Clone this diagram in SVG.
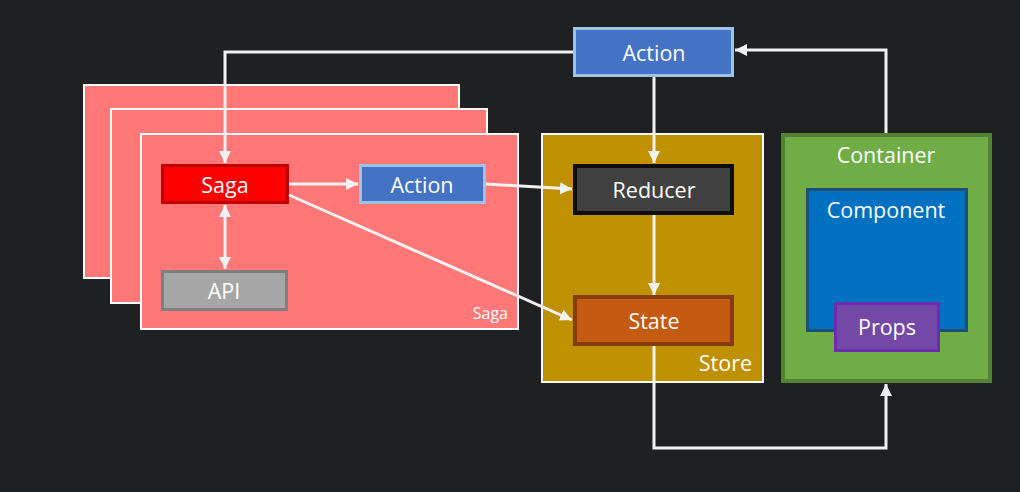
<svg xmlns="http://www.w3.org/2000/svg" width="1020" height="492" viewBox="0 0 1020 492">
<style>
.t{font-family:"Open Sans","Noto Sans",sans-serif;fill:#ffffff;text-anchor:middle;dominant-baseline:central;font-size:21.5px}
.c{fill:none;stroke:#f2f2f2;stroke-width:3}
.stack{fill:#ff7777;stroke:#ffffff;stroke-width:2}
</style>
<defs>
<marker id="ah" viewBox="0 0 10 10" refX="10" refY="5" markerWidth="12" markerHeight="12" markerUnits="userSpaceOnUse" orient="auto-start-reverse">
<path d="M0,0 L10,5 L0,10 z" fill="#f2f2f2"/>
</marker>
</defs>
<rect width="1020" height="492" fill="#1f2022"/>
<g id="saga-stack">
<rect class="stack" x="84" y="85" width="375" height="193"/>
<rect class="stack" x="111" y="109" width="376" height="194"/>
<rect class="stack" x="141" y="134" width="377" height="195"/>
<text class="t" x="508" y="313" style="text-anchor:end;font-size:16px">Saga</text>
</g>
<g id="store">
<rect x="542" y="134" width="221" height="248" fill="#bf9000" stroke="#ffffff" stroke-width="2"/>
<text class="t" x="752" y="362" style="text-anchor:end">Store</text>
</g>
<g id="container">
<rect x="783" y="135" width="207" height="246" fill="#70ad47" stroke="#548235" stroke-width="4"/>
<text class="t" x="886" y="154">Container</text>
</g>
<g id="component">
<rect x="807.5" y="189.5" width="159" height="141" fill="#0070c0" stroke="#1f4e79" stroke-width="3"/>
<text class="t" x="886" y="209">Component</text>
</g>
<g id="props">
<rect x="835.5" y="303.5" width="103" height="47" fill="#7448a6" stroke="#6a2db0" stroke-width="3"/>
<text class="t" x="887" y="326">Props</text>
</g>
<g id="saga">
<rect x="162.5" y="165.5" width="125" height="37" fill="#ff0000" stroke="#c00000" stroke-width="3"/>
<text class="t" x="225" y="184">Saga</text>
</g>
<g id="action-inner">
<rect x="360.5" y="165.5" width="124" height="37" fill="#4472c4" stroke="#9dc3e6" stroke-width="3"/>
<text class="t" x="422" y="184">Action</text>
</g>
<g id="api">
<rect x="162.5" y="271.5" width="124" height="38" fill="#a6a6a6" stroke="#7f7f7f" stroke-width="3"/>
<text class="t" x="224" y="290">API</text>
</g>
<g id="action-top">
<rect x="574.5" y="28.5" width="158" height="47" fill="#4472c4" stroke="#9dc3e6" stroke-width="3"/>
<text class="t" x="654" y="52">Action</text>
</g>
<g id="reducer">
<rect x="575" y="166" width="157" height="47" fill="#404040" stroke="#0d0d0d" stroke-width="4"/>
<text class="t" x="654" y="189">Reducer</text>
</g>
<g id="state">
<rect x="575" y="297" width="157" height="47" fill="#c55a11" stroke="#843c0c" stroke-width="4"/>
<text class="t" x="654" y="320">State</text>
</g>
<g id="connectors">
<polyline class="c" points="573,52 225,52 225,163" marker-end="url(#ah)"/>
<line class="c" x1="289" y1="184" x2="358" y2="184" marker-end="url(#ah)"/>
<line class="c" x1="486" y1="184" x2="572" y2="189" marker-end="url(#ah)"/>
<line class="c" x1="289" y1="195" x2="572" y2="320" marker-end="url(#ah)"/>
<line class="c" x1="225" y1="205" x2="225" y2="269" marker-start="url(#ah)" marker-end="url(#ah)"/>
<line class="c" x1="654" y1="77" x2="654" y2="163" marker-end="url(#ah)"/>
<line class="c" x1="654" y1="215" x2="654" y2="295" marker-end="url(#ah)"/>
<polyline class="c" points="654,346 654,448 886,448 886,384" marker-end="url(#ah)"/>
<polyline class="c" points="886,133 886,50 735,50" marker-end="url(#ah)"/>
</g>
</svg>
